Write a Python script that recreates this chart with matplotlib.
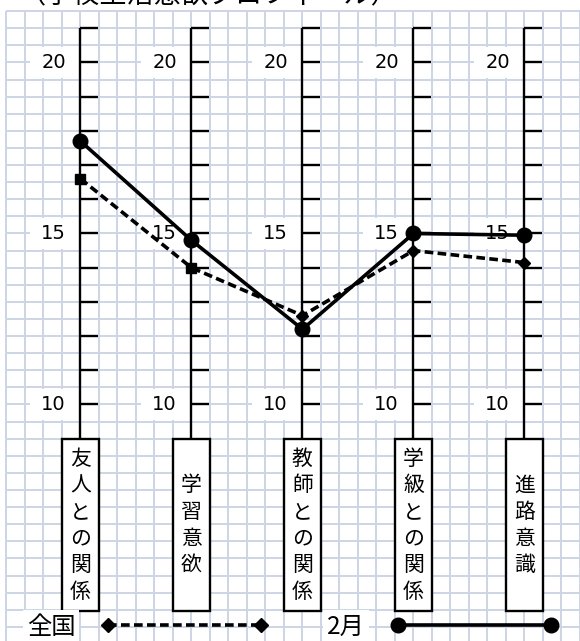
import matplotlib
matplotlib.use("Agg")
import matplotlib.pyplot as plt
from matplotlib.patches import Rectangle
from matplotlib.lines import Line2D
import numpy as np

plt.rcParams['font.family'] = ['Noto Sans CJK JP', 'DejaVu Sans']

# data
categories = ['友人との関係', '学習意欲', '教師との関係', '学級との関係', '進路意識']
feb_values = [17.7, 14.8, 12.2, 15.0, 14.95]
national_values = [16.6, 14.0, 12.6, 14.5, 14.15]
tick_labels = [10, 15, 20]
series_names = ['全国', '2月']
title = '（学校生活意欲プロフィール）'

grid_color = '#cdd5e5'

fig = plt.figure(figsize=(5.8, 6.41), dpi=100)
ax = fig.add_axes([0, 0, 1, 1])
ax.set_xlim(-0.725, 4.5)
ax.set_ylim(3.085, 21.827)
ax.axis('off')

# graph paper background
xs_grid = np.arange(-4, 30) / 6.0
ax.vlines(xs_grid, 3.0, 21.5, color=grid_color, lw=1.4, zorder=0)
ax.hlines(np.arange(3.5, 21.6, 0.5), -4 / 6.0, 4.6, color=grid_color, lw=1.4, zorder=0)

x = np.arange(len(categories))
for i, cat in enumerate(categories):
    # vertical axis with ticks on the right
    ax.vlines(i, 9, 21, color='black', lw=1.7, zorder=3)
    ax.hlines(np.arange(10, 22), i, i + 0.162, color='black', lw=1.7, zorder=3)
    for t in tick_labels:
        ax.add_patch(Rectangle((i - 0.455, t - 0.45), 0.45, 0.9, fc='white', ec='none', zorder=1))
        ax.text(i - 0.243, t, str(t), ha='center', va='center', fontsize=14,
                family='DejaVu Sans', zorder=4)
    # label box
    ax.add_patch(Rectangle((i - 0.167, 3.96), 0.334, 5.04, fc='white', ec='black', lw=1.7, zorder=3))
    n = len(cat)
    for k, ch in enumerate(cat):
        ax.text(i, 6.47 + (n - 1) / 2 * 0.778 - k * 0.778, ch, ha='center', va='center',
                fontsize=15, zorder=4)

# series
ax.plot(x, national_values, color='black', lw=2.6, ls=(0, (2.4, 1.2)), zorder=5)
ax.plot(x[:2], national_values[:2], 's', color='black', ms=7.5, zorder=6)
ax.plot(x[2:], national_values[2:], 'D', color='black', ms=6, zorder=6)
ax.plot(x, feb_values, color='black', lw=2.6, marker='o', ms=10.5, zorder=7)

handles = [
    Line2D([], [], color='black', lw=2.6, ls=(0, (2.4, 1.2)), marker='D', ms=7.5),
    Line2D([], [], color='black', lw=2.6, marker='o', ms=10.5),
]
leg = fig.legend(handles, series_names, loc='center left', bbox_to_anchor=(27 / 580, 1 - 627 / 641),
                 ncol=2, frameon=False, fontsize=17.5, markerfirst=False, numpoints=2,
                 handlelength=6.9, handletextpad=1.05, columnspacing=2.4,
                 borderpad=0, borderaxespad=0)
for t in leg.get_texts():
    t.set_bbox(dict(boxstyle='square,pad=0.15', fc='white', ec='none'))

# title, mostly cut off at the top edge
fig.text(18 / 580, 1 - 2 / 641, title, ha='left', va='baseline', fontsize=19.5)

fig.savefig('out.png', dpi=100)
